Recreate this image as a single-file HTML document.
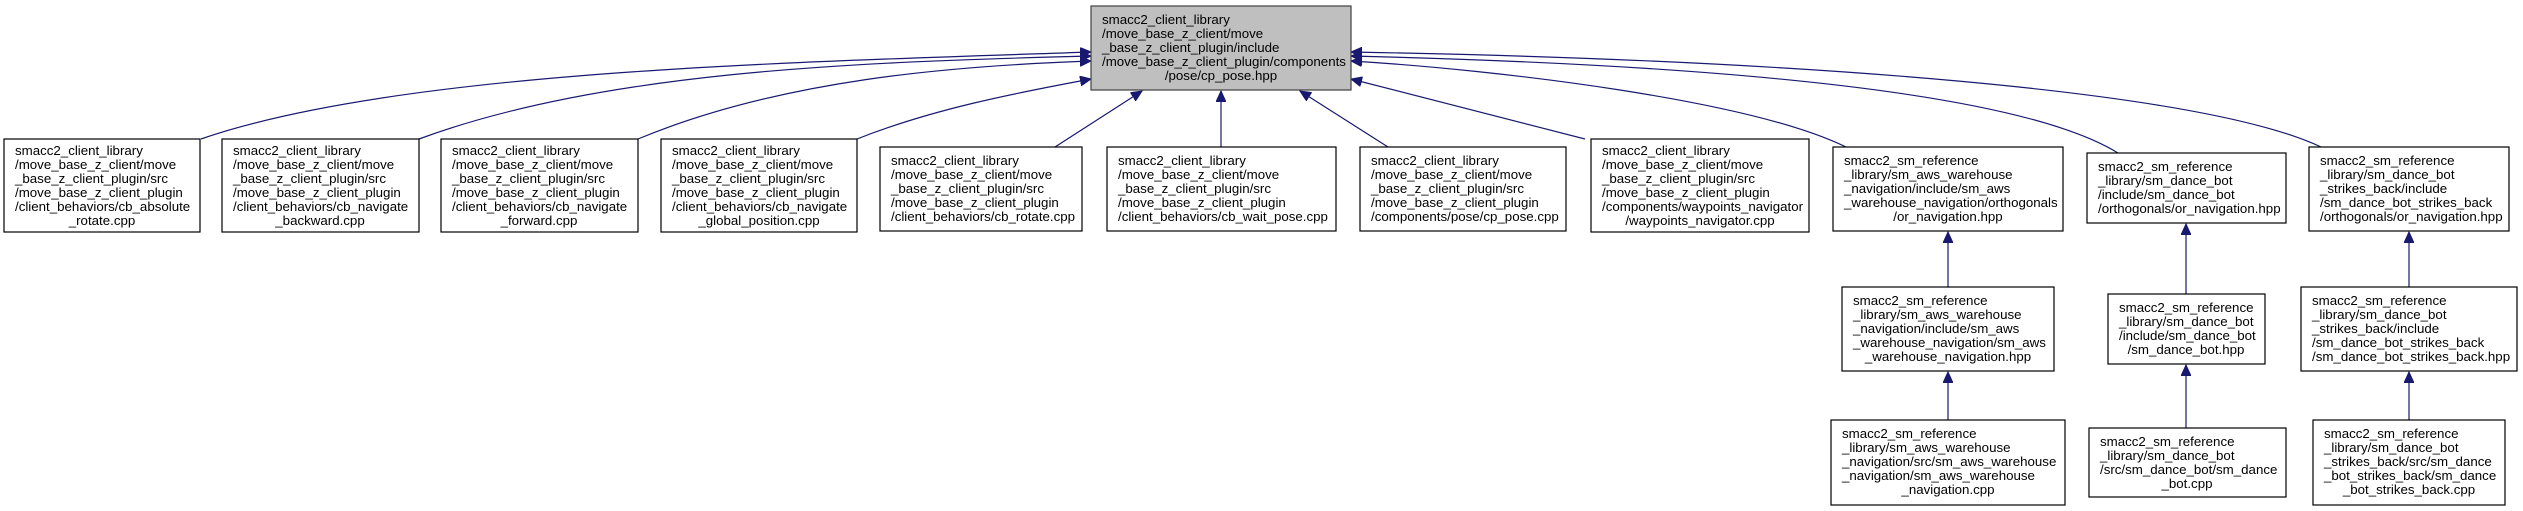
<!DOCTYPE html>
<html><head><meta charset="utf-8"><style>
html,body{margin:0;padding:0;background:#fff;}
svg{display:block;}
text{font-family:"Liberation Sans",Arial,sans-serif;font-size:13.3px;fill:#000;}
.b{fill:#fff;stroke:#000;stroke-width:1.2;}
.e{fill:none;stroke:#191970;stroke-width:1.2;}
.m{text-anchor:middle;}
</style></head><body>
<svg width="2523" height="511" viewBox="0 0 2523 511" xmlns="http://www.w3.org/2000/svg">
<defs><marker id="a" markerWidth="12" markerHeight="10" refX="11" refY="5" orient="auto" markerUnits="userSpaceOnUse"><path d="M0,0 L11,5 L0,10 z" fill="#191970" stroke="#191970"/></marker></defs>

<!-- edges -->
<path class="e" marker-end="url(#a)" d="M201,139 C400,70 800,62 1091,52"/>
<path class="e" marker-end="url(#a)" d="M419,139 C600,72 850,62 1091,56"/>
<path class="e" marker-end="url(#a)" d="M638,139 C780,80 950,66 1091,61"/>
<path class="e" marker-end="url(#a)" d="M857,139 C930,110 1010,94 1091,79"/>
<path class="e" marker-end="url(#a)" d="M1055,147 L1142,91"/>
<path class="e" marker-end="url(#a)" d="M1221,147 L1221,91"/>
<path class="e" marker-end="url(#a)" d="M1388,147 L1300,91"/>
<path class="e" marker-end="url(#a)" d="M1585,139 L1351,79"/>
<path class="e" marker-end="url(#a)" d="M1846,147 C1750,100 1500,70 1351,61"/>
<path class="e" marker-end="url(#a)" d="M2118,153 C2000,80 1600,62 1351,56"/>
<path class="e" marker-end="url(#a)" d="M2321,147 C2200,90 1800,60 1351,52"/>
<path class="e" marker-end="url(#a)" d="M1948,287 L1948,232"/>
<path class="e" marker-end="url(#a)" d="M2186,294 L2186,224"/>
<path class="e" marker-end="url(#a)" d="M2409,287 L2409,232"/>
<path class="e" marker-end="url(#a)" d="M1948,420 L1948,372"/>
<path class="e" marker-end="url(#a)" d="M2186,428 L2186,365"/>
<path class="e" marker-end="url(#a)" d="M2409,420 L2409,372"/>

<!-- top node -->
<rect x="1091" y="6" width="260" height="84" style="fill:#bfbfbf;stroke:#404040;stroke-width:1.2"/>
<text x="1102" y="24">smacc2_client_library</text>
<text x="1102" y="38">/move_base_z_client/move</text>
<text x="1102" y="52">_base_z_client_plugin/include</text>
<text x="1102" y="66">/move_base_z_client_plugin/components</text>
<text class="m" x="1221" y="80">/pose/cp_pose.hpp</text>

<!-- box1 -->
<rect class="b" x="4" y="139" width="196" height="93"/>
<text x="15" y="155">smacc2_client_library</text>
<text x="15" y="169">/move_base_z_client/move</text>
<text x="15" y="183">_base_z_client_plugin/src</text>
<text x="15" y="197">/move_base_z_client_plugin</text>
<text x="15" y="211">/client_behaviors/cb_absolute</text>
<text class="m" x="102" y="225">_rotate.cpp</text>

<!-- box2 -->
<rect class="b" x="222" y="139" width="197" height="93"/>
<text x="233" y="155">smacc2_client_library</text>
<text x="233" y="169">/move_base_z_client/move</text>
<text x="233" y="183">_base_z_client_plugin/src</text>
<text x="233" y="197">/move_base_z_client_plugin</text>
<text x="233" y="211">/client_behaviors/cb_navigate</text>
<text class="m" x="320" y="225">_backward.cpp</text>

<!-- box3 -->
<rect class="b" x="441" y="139" width="197" height="93"/>
<text x="452" y="155">smacc2_client_library</text>
<text x="452" y="169">/move_base_z_client/move</text>
<text x="452" y="183">_base_z_client_plugin/src</text>
<text x="452" y="197">/move_base_z_client_plugin</text>
<text x="452" y="211">/client_behaviors/cb_navigate</text>
<text class="m" x="539" y="225">_forward.cpp</text>

<!-- box4 -->
<rect class="b" x="661" y="139" width="196" height="93"/>
<text x="672" y="155">smacc2_client_library</text>
<text x="672" y="169">/move_base_z_client/move</text>
<text x="672" y="183">_base_z_client_plugin/src</text>
<text x="672" y="197">/move_base_z_client_plugin</text>
<text x="672" y="211">/client_behaviors/cb_navigate</text>
<text class="m" x="759" y="225">_global_position.cpp</text>

<!-- rotate -->
<rect class="b" x="880" y="147" width="202" height="84"/>
<text x="891" y="165">smacc2_client_library</text>
<text x="891" y="179">/move_base_z_client/move</text>
<text x="891" y="193">_base_z_client_plugin/src</text>
<text x="891" y="207">/move_base_z_client_plugin</text>
<text x="891" y="221">/client_behaviors/cb_rotate.cpp</text>

<!-- wait_pose -->
<rect class="b" x="1107" y="147" width="229" height="84"/>
<text x="1118" y="165">smacc2_client_library</text>
<text x="1118" y="179">/move_base_z_client/move</text>
<text x="1118" y="193">_base_z_client_plugin/src</text>
<text x="1118" y="207">/move_base_z_client_plugin</text>
<text x="1118" y="221">/client_behaviors/cb_wait_pose.cpp</text>

<!-- cp_pose -->
<rect class="b" x="1360" y="147" width="206" height="84"/>
<text x="1371" y="165">smacc2_client_library</text>
<text x="1371" y="179">/move_base_z_client/move</text>
<text x="1371" y="193">_base_z_client_plugin/src</text>
<text x="1371" y="207">/move_base_z_client_plugin</text>
<text x="1371" y="221">/components/pose/cp_pose.cpp</text>

<!-- waypoints -->
<rect class="b" x="1591" y="139" width="218" height="93"/>
<text x="1602" y="155">smacc2_client_library</text>
<text x="1602" y="169">/move_base_z_client/move</text>
<text x="1602" y="183">_base_z_client_plugin/src</text>
<text x="1602" y="197">/move_base_z_client_plugin</text>
<text x="1602" y="211">/components/waypoints_navigator</text>
<text class="m" x="1700" y="225">/waypoints_navigator.cpp</text>

<!-- A -->
<rect class="b" x="1833" y="147" width="230" height="84"/>
<text x="1844" y="165">smacc2_sm_reference</text>
<text x="1844" y="179">_library/sm_aws_warehouse</text>
<text x="1844" y="193">_navigation/include/sm_aws</text>
<text x="1844" y="207">_warehouse_navigation/orthogonals</text>
<text class="m" x="1948" y="221">/or_navigation.hpp</text>

<!-- B -->
<rect class="b" x="2087" y="153" width="199" height="70"/>
<text x="2098" y="171">smacc2_sm_reference</text>
<text x="2098" y="185">_library/sm_dance_bot</text>
<text x="2098" y="199">/include/sm_dance_bot</text>
<text x="2098" y="213">/orthogonals/or_navigation.hpp</text>

<!-- C -->
<rect class="b" x="2309" y="147" width="200" height="84"/>
<text x="2320" y="165">smacc2_sm_reference</text>
<text x="2320" y="179">_library/sm_dance_bot</text>
<text x="2320" y="193">_strikes_back/include</text>
<text x="2320" y="207">/sm_dance_bot_strikes_back</text>
<text x="2320" y="221">/orthogonals/or_navigation.hpp</text>

<!-- A2 -->
<rect class="b" x="1842" y="287" width="212" height="84"/>
<text x="1853" y="305">smacc2_sm_reference</text>
<text x="1853" y="319">_library/sm_aws_warehouse</text>
<text x="1853" y="333">_navigation/include/sm_aws</text>
<text x="1853" y="347">_warehouse_navigation/sm_aws</text>
<text class="m" x="1948" y="361">_warehouse_navigation.hpp</text>

<!-- B2 -->
<rect class="b" x="2108" y="294" width="157" height="70"/>
<text x="2119" y="312">smacc2_sm_reference</text>
<text x="2119" y="326">_library/sm_dance_bot</text>
<text x="2119" y="340">/include/sm_dance_bot</text>
<text class="m" x="2186" y="354">/sm_dance_bot.hpp</text>

<!-- C2 -->
<rect class="b" x="2301" y="287" width="216" height="84"/>
<text x="2312" y="305">smacc2_sm_reference</text>
<text x="2312" y="319">_library/sm_dance_bot</text>
<text x="2312" y="333">_strikes_back/include</text>
<text x="2312" y="347">/sm_dance_bot_strikes_back</text>
<text x="2312" y="361">/sm_dance_bot_strikes_back.hpp</text>

<!-- A3 -->
<rect class="b" x="1831" y="420" width="234" height="85"/>
<text x="1842" y="438">smacc2_sm_reference</text>
<text x="1842" y="452">_library/sm_aws_warehouse</text>
<text x="1842" y="466">_navigation/src/sm_aws_warehouse</text>
<text x="1842" y="480">_navigation/sm_aws_warehouse</text>
<text class="m" x="1948" y="494">_navigation.cpp</text>

<!-- B3 -->
<rect class="b" x="2089" y="428" width="197" height="69"/>
<text x="2100" y="446">smacc2_sm_reference</text>
<text x="2100" y="460">_library/sm_dance_bot</text>
<text x="2100" y="474">/src/sm_dance_bot/sm_dance</text>
<text class="m" x="2187" y="488">_bot.cpp</text>

<!-- C3 -->
<rect class="b" x="2313" y="420" width="192" height="85"/>
<text x="2324" y="438">smacc2_sm_reference</text>
<text x="2324" y="452">_library/sm_dance_bot</text>
<text x="2324" y="466">_strikes_back/src/sm_dance</text>
<text x="2324" y="480">_bot_strikes_back/sm_dance</text>
<text class="m" x="2409" y="494">_bot_strikes_back.cpp</text>
</svg>
</body></html>
